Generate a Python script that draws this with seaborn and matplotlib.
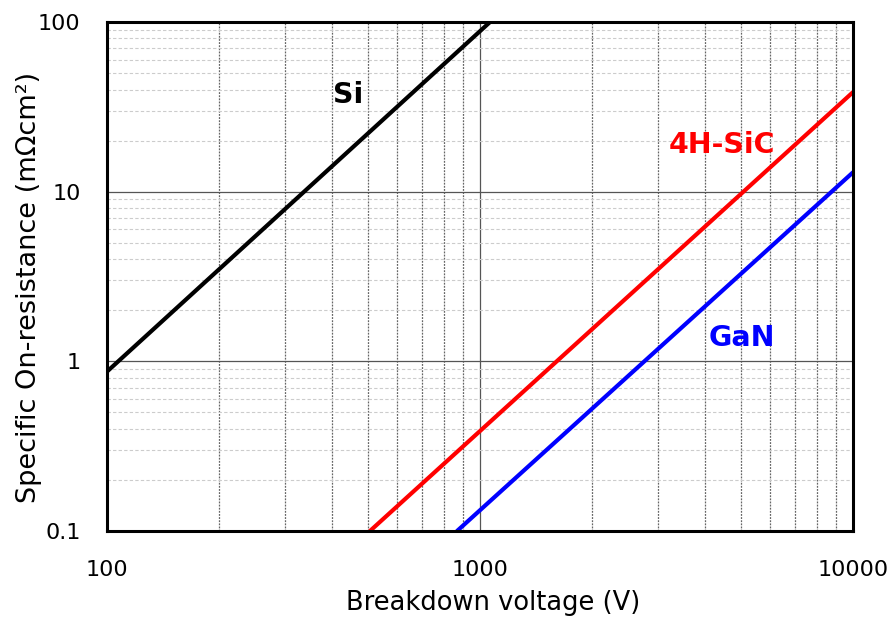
import matplotlib
matplotlib.use("Agg")
import matplotlib.pyplot as plt
import matplotlib.ticker as mticker
import seaborn as sns
import pandas as pd

# Data (endpoints, log-log straight lines)
materials = ["Si", "4H-SiC", "GaN"]
si_v = [100, 1064]
si_r = [0.87, 100]
sic_v = [507, 10000]
sic_r = [0.1, 38.6]
gan_v = [868, 10000]
gan_r = [0.1, 13.0]
colors = ["#000000", "#ff0000", "#0000ff"]
label_pos_v = [443, 4455, 5038]
label_pos_r = [37, 18.8, 1.37]
x_ticks = [100, 1000, 10000]
x_ticklabels = ["100", "1000", "10000"]
y_ticks = [0.1, 1, 10, 100]
y_ticklabels = ["0.1", "1", "10", "100"]

df = pd.DataFrame({
    "V": si_v + sic_v + gan_v,
    "R": si_r + sic_r + gan_r,
    "mat": ["Si"] * 2 + ["4H-SiC"] * 2 + ["GaN"] * 2,
})

sns.set_style("white")
plt.rcParams["font.family"] = ["DejaVu Sans"]
plt.rcParams["text.color"] = "black"
plt.rcParams["axes.labelcolor"] = "black"
plt.rcParams["xtick.color"] = "black"
plt.rcParams["ytick.color"] = "black"

fig = plt.figure(figsize=(8.93, 6.18), dpi=100)
ax = fig.add_axes([107 / 893, 1 - 531 / 618, (853 - 107) / 893, (531 - 22) / 618])

ax.set_xscale("log")
ax.set_yscale("log")
ax.set_xlim(100, 10000)
ax.set_ylim(0.1, 100)

# grid
ax.xaxis.set_minor_locator(mticker.LogLocator(base=10, subs=range(2, 10)))
ax.yaxis.set_minor_locator(mticker.LogLocator(base=10, subs=range(2, 10)))
ax.xaxis.set_minor_formatter(mticker.NullFormatter())
ax.yaxis.set_minor_formatter(mticker.NullFormatter())
ax.grid(True, which="major", color="#555555", linewidth=0.9, linestyle="-")
ax.grid(True, which="minor", axis="x", color="#666666", linewidth=0.9, linestyle=(0, (1.5, 1)))
ax.grid(True, which="minor", axis="y", color="#cccccc", linewidth=0.8, linestyle=(0, (3, 2)))
ax.set_axisbelow(True)

sns.lineplot(data=df, x="V", y="R", hue="mat", hue_order=materials,
             palette=colors, linewidth=3.0, legend=False, ax=ax,
             estimator=None, sort=False)

for m, v, r, c in zip(materials, label_pos_v, label_pos_r, colors):
    ax.text(v, r, m, color=c, fontsize=20.5, fontweight="bold",
            ha="center", va="center")

ax.set_xticks(x_ticks)
ax.set_xticklabels(x_ticklabels)
ax.set_yticks(y_ticks)
ax.set_yticklabels(y_ticklabels)
ax.tick_params(axis="both", which="both", length=0, labelsize=16)
ax.tick_params(axis="x", pad=21)
ax.tick_params(axis="y", pad=19)

ax.set_xlabel("Breakdown voltage (V)", fontsize=18.5)
ax.set_ylabel("Specific On-resistance (mΩcm²)", fontsize=19.5)
ax.xaxis.set_label_coords((493 - 107) / 746, (531 - 590) / 509)
ax.yaxis.set_label_coords((42 - 107) / 746, (531 - 287) / 509)

for s in ax.spines.values():
    s.set_visible(True)
    s.set_color("black")
    s.set_linewidth(2.2)

fig.savefig("out.png", dpi=100, facecolor="white")
